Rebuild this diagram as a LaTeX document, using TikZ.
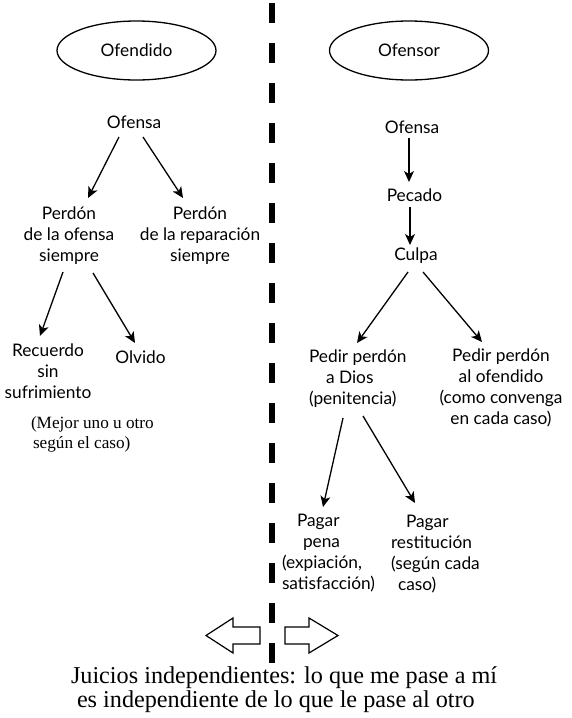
\documentclass[tikz,border=0pt]{standalone}
\usepackage{fontspec}
\setmainfont{Liberation Serif}
\newfontfamily\labfont{Lato}
\usetikzlibrary{shapes.geometric,arrows.meta}
\begin{document}
\begin{tikzpicture}[x=1pt,y=-1pt,
  lab/.style={font=\labfont\fontsize{17.3}{21}\selectfont, inner sep=0pt, outer sep=0pt, align=center},
  labl/.style={lab, align=left, anchor=west},
  note/.style={font=\fontsize{17.2}{20}\selectfont, inner sep=0pt, outer sep=0pt, align=left, anchor=west},
  big/.style={font=\fontsize{24.2}{24}\selectfont, inner sep=0pt, outer sep=0pt, align=left, anchor=west},
  arr/.style={-{Stealth[length=11pt,width=10pt,inset=3pt]}, line width=1.3pt},
  oval/.style={draw, ellipse, line width=1.3pt, minimum width=159pt, minimum height=59pt, inner sep=0pt, font=\labfont\fontsize{17.3}{21}\selectfont},
  hollow/.style={draw, line width=1.2pt, fill=white, line join=miter}]
\fill[white] (0,0) rectangle (571,718);
\useasboundingbox (0,0) rectangle (571,718);

% divider
\draw[line width=6pt, dash pattern=on 20pt off 20pt] (272,3) -- (272,663);

% left side
\node[oval] (ofendido) at (136.5,50.5) {Ofendido};
\node[lab] (ofL) at (134,122) {Ofensa};
\node[lab] (perdL) at (69,236) {Perdón\\de la ofensa\\siempre};
\node[lab] (perdR) at (200,236) {Perdón\\de la reparación\\siempre};
\node[lab] (recu) at (48,371) {Recuerdo\\sin\\sufrimiento};
\node[lab] (olv) at (140.5,357.5) {Olvido};
\node[note] (mejor) at (31,434) {(Mejor uno u otro\\\hspace*{2pt}según el caso)};

\draw[arr] ([shift={(-15,15)}]ofL.center) -- ([shift={(19,-38)}]perdL.center);
\draw[arr] ([shift={(9,15)}]ofL.center) -- ([shift={(-17,-38)}]perdR.center);
\draw[arr] ([shift={(-6,36)}]perdL.center) -- ([shift={(-8,-35)}]recu.center);
\draw[arr] ([shift={(24,37)}]perdL.center) -- ([shift={(-5.5,-14.5)}]olv.center);

% right side
\node[oval] (ofensor) at (409,50.5) {Ofensor};
\node[lab] (ofR) at (412,127) {Ofensa};
\node[lab] (pec) at (414.5,195) {Pecado};
\node[lab] (cul) at (416,256) {Culpa};
\node[labl] (pdios) at (309,379) {Pedir perdón\\\hspace*{17pt}a Dios\\(penitencia)};
\node[lab] (pofe) at (501,388) {Pedir perdón\\al ofendido\\(como convenga\\en cada caso)};
\node[labl] (ppena) at (282,553) {\hspace*{15pt}Pagar\\\hspace*{21pt}pena\\(expiación,\\satisfacción)};
\node[labl] (prest) at (391,554) {\hspace*{15pt}Pagar\\restitución\\(según cada\\\hspace*{7pt}caso)};

\draw[arr] ([shift={(-3,11)}]ofR.center) -- ([shift={(-5.5,-13)}]pec.center);
\draw[arr] ([shift={(-4.5,12)}]pec.center) -- ([shift={(-6,-11)}]cul.center);
\draw[arr] ([shift={(-8,16)}]cul.center) -- ([shift={(48,-36)}]pdios.west);
\draw[arr] ([shift={(7,16)}]cul.center) -- ([shift={(-19,-46)}]pofe.center);
\draw[arr] ([shift={(34,39)}]pdios.west) -- ([shift={(41,-46)}]ppena.west);
\draw[arr] ([shift={(54,37)}]pdios.west) -- ([shift={(24,-51)}]prest.west);

% hollow arrows
\draw[hollow] (260,627) -- (233,627) -- (233,618) -- (206,635.5) -- (233,653) -- (233,644) -- (260,644) -- cycle;
\draw[hollow] (285,627) -- (309,627) -- (309,618) -- (338,635.5) -- (309,653) -- (309,644) -- (285,644) -- cycle;

% bottom text
\node[big] (juicios) at (71,690) {Juicios independientes: lo que me pase a mí\\\hspace*{6pt}es independiente de lo que le pase al otro};
\end{tikzpicture}
\end{document}
